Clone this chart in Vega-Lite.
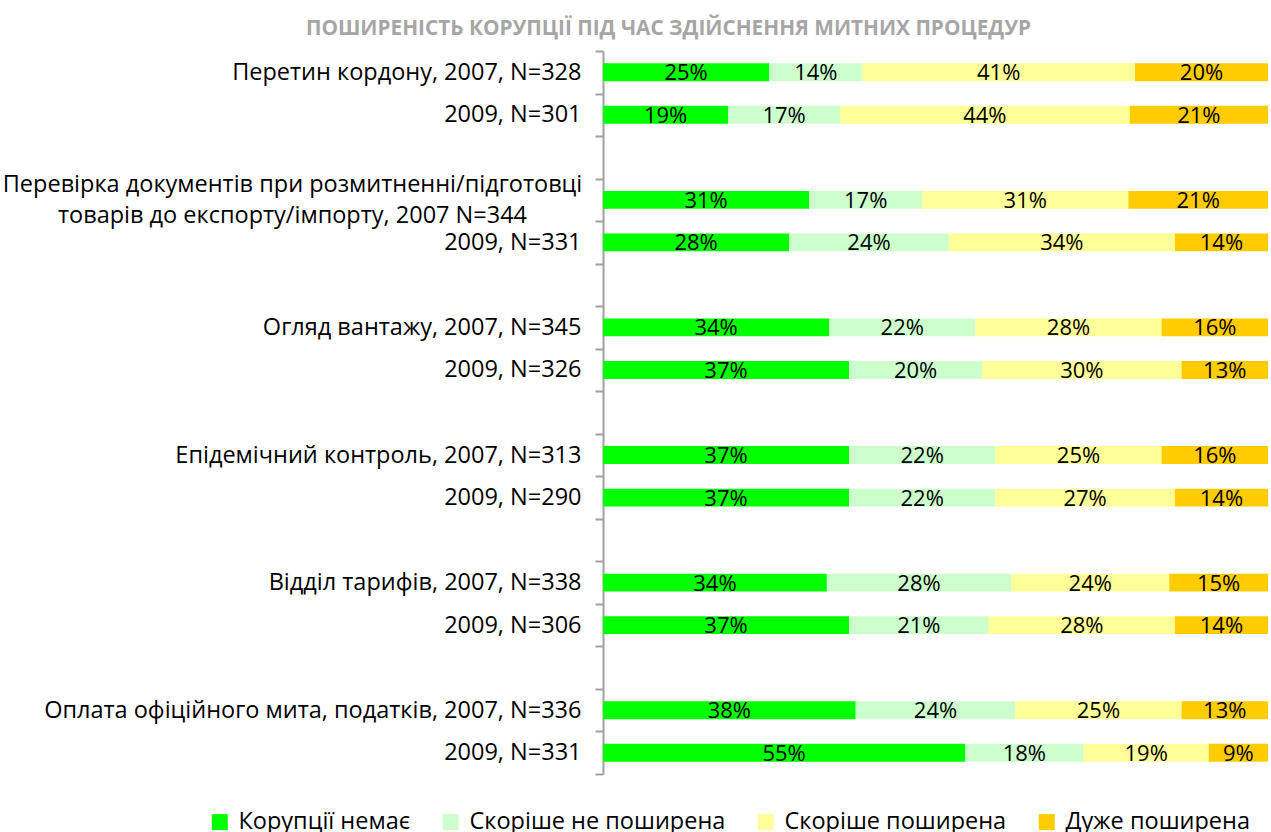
{
  "$schema": "https://vega.github.io/schema/vega-lite/v6.json",
  "width": 665,
  "height": 723,
  "autosize": "none",
  "padding": {"left": 603, "top": 51, "right": 3, "bottom": 58},
  "config": {
    "font": "Open Sans",
    "view": {"stroke": null}
  },
  "title": {
    "text": "ПОШИРЕНІСТЬ КОРУПЦІЇ ПІД ЧАС ЗДІЙСНЕННЯ  МИТНИХ ПРОЦЕДУР",
    "anchor": "middle",
    "frame": "group",
    "dx": -267,
    "dy": 14,
    "offset": 13,
    "fontSize": 20.8,
    "fontWeight": "bold",
    "color": "#A6A6A6",
    "font": "Open Sans"
  },
  "data": {
    "values": [
      {"r": "Перетин кордону, 2007, N=328", "s": "Корупції немає", "k": 1, "v": 0.25},
      {"r": "Перетин кордону, 2007, N=328", "s": "Скоріше не поширена", "k": 2, "v": 0.14},
      {"r": "Перетин кордону, 2007, N=328", "s": "Скоріше поширена", "k": 3, "v": 0.41},
      {"r": "Перетин кордону, 2007, N=328", "s": "Дуже поширена", "k": 4, "v": 0.20},
      {"r": "2009, N=301", "s": "Корупції немає", "k": 1, "v": 0.19},
      {"r": "2009, N=301", "s": "Скоріше не поширена", "k": 2, "v": 0.17},
      {"r": "2009, N=301", "s": "Скоріше поширена", "k": 3, "v": 0.44},
      {"r": "2009, N=301", "s": "Дуже поширена", "k": 4, "v": 0.21},
      {"r": "Перевірка документів при розмитненні/підготовці|товарів до експорту/імпорту, 2007 N=344", "s": "Корупції немає", "k": 1, "v": 0.31},
      {"r": "Перевірка документів при розмитненні/підготовці|товарів до експорту/імпорту, 2007 N=344", "s": "Скоріше не поширена", "k": 2, "v": 0.17},
      {"r": "Перевірка документів при розмитненні/підготовці|товарів до експорту/імпорту, 2007 N=344", "s": "Скоріше поширена", "k": 3, "v": 0.31},
      {"r": "Перевірка документів при розмитненні/підготовці|товарів до експорту/імпорту, 2007 N=344", "s": "Дуже поширена", "k": 4, "v": 0.21},
      {"r": "2009, N=331", "s": "Корупції немає", "k": 1, "v": 0.28},
      {"r": "2009, N=331", "s": "Скоріше не поширена", "k": 2, "v": 0.24},
      {"r": "2009, N=331", "s": "Скоріше поширена", "k": 3, "v": 0.34},
      {"r": "2009, N=331", "s": "Дуже поширена", "k": 4, "v": 0.14},
      {"r": "Огляд вантажу, 2007, N=345", "s": "Корупції немає", "k": 1, "v": 0.34},
      {"r": "Огляд вантажу, 2007, N=345", "s": "Скоріше не поширена", "k": 2, "v": 0.22},
      {"r": "Огляд вантажу, 2007, N=345", "s": "Скоріше поширена", "k": 3, "v": 0.28},
      {"r": "Огляд вантажу, 2007, N=345", "s": "Дуже поширена", "k": 4, "v": 0.16},
      {"r": "2009, N=326", "s": "Корупції немає", "k": 1, "v": 0.37},
      {"r": "2009, N=326", "s": "Скоріше не поширена", "k": 2, "v": 0.20},
      {"r": "2009, N=326", "s": "Скоріше поширена", "k": 3, "v": 0.30},
      {"r": "2009, N=326", "s": "Дуже поширена", "k": 4, "v": 0.13},
      {"r": "Епідемічний контроль, 2007, N=313", "s": "Корупції немає", "k": 1, "v": 0.37},
      {"r": "Епідемічний контроль, 2007, N=313", "s": "Скоріше не поширена", "k": 2, "v": 0.22},
      {"r": "Епідемічний контроль, 2007, N=313", "s": "Скоріше поширена", "k": 3, "v": 0.25},
      {"r": "Епідемічний контроль, 2007, N=313", "s": "Дуже поширена", "k": 4, "v": 0.16},
      {"r": "2009, N=290", "s": "Корупції немає", "k": 1, "v": 0.37},
      {"r": "2009, N=290", "s": "Скоріше не поширена", "k": 2, "v": 0.22},
      {"r": "2009, N=290", "s": "Скоріше поширена", "k": 3, "v": 0.27},
      {"r": "2009, N=290", "s": "Дуже поширена", "k": 4, "v": 0.14},
      {"r": "Відділ тарифів, 2007, N=338", "s": "Корупції немає", "k": 1, "v": 0.34},
      {"r": "Відділ тарифів, 2007, N=338", "s": "Скоріше не поширена", "k": 2, "v": 0.28},
      {"r": "Відділ тарифів, 2007, N=338", "s": "Скоріше поширена", "k": 3, "v": 0.24},
      {"r": "Відділ тарифів, 2007, N=338", "s": "Дуже поширена", "k": 4, "v": 0.15},
      {"r": "2009, N=306", "s": "Корупції немає", "k": 1, "v": 0.37},
      {"r": "2009, N=306", "s": "Скоріше не поширена", "k": 2, "v": 0.21},
      {"r": "2009, N=306", "s": "Скоріше поширена", "k": 3, "v": 0.28},
      {"r": "2009, N=306", "s": "Дуже поширена", "k": 4, "v": 0.14},
      {"r": "Оплата офіційного мита, податків,  2007, N=336", "s": "Корупції немає", "k": 1, "v": 0.38},
      {"r": "Оплата офіційного мита, податків,  2007, N=336", "s": "Скоріше не поширена", "k": 2, "v": 0.24},
      {"r": "Оплата офіційного мита, податків,  2007, N=336", "s": "Скоріше поширена", "k": 3, "v": 0.25},
      {"r": "Оплата офіційного мита, податків,  2007, N=336", "s": "Дуже поширена", "k": 4, "v": 0.13},
      {"r": "2009, N=331 ", "s": "Корупції немає", "k": 1, "v": 0.55},
      {"r": "2009, N=331 ", "s": "Скоріше не поширена", "k": 2, "v": 0.18},
      {"r": "2009, N=331 ", "s": "Скоріше поширена", "k": 3, "v": 0.19},
      {"r": "2009, N=331 ", "s": "Дуже поширена", "k": 4, "v": 0.09}
    ]
  },
  "encoding": {
    "y": {
      "field": "r",
      "type": "nominal",
      "sort": null,
      "scale": {
        "domain": [
          "Перетин кордону, 2007, N=328", "2009, N=301", " ",
          "Перевірка документів при розмитненні/підготовці|товарів до експорту/імпорту, 2007 N=344", "2009, N=331", "  ",
          "Огляд вантажу, 2007, N=345", "2009, N=326", "   ",
          "Епідемічний контроль, 2007, N=313", "2009, N=290", "    ",
          "Відділ тарифів, 2007, N=338", "2009, N=306", "     ",
          "Оплата офіційного мита, податків,  2007, N=336", "2009, N=331 "
        ],
        "paddingInner": 0,
        "paddingOuter": 0
      },
      "axis": {
        "title": null,
        "tickBand": "extent",
        "labelExpr": "isString(datum.value) ? split(trim(datum.value), '|') : ''",
        "labelFontSize": 23.5,
        "labelColor": "#000000",
        "labelPadding": {"condition": {"test": "isString(datum.value) && indexof(datum.value, '|') >= 0", "value": 303}, "value": 14},
        "labelAlign": {"condition": {"test": "isString(datum.value) && indexof(datum.value, '|') >= 0", "value": "center"}, "value": "right"},
        "labelOffset": {"condition": {"test": "isString(datum.value) && indexof(datum.value, '|') >= 0", "value": -15}, "value": 0},
        "labelLineHeight": 31,
        "labelLimit": 700,
        "labelOverlap": false,
        "domainColor": "#A0A0A0",
        "domainWidth": 2,
        "tickColor": "#A0A0A0",
        "tickWidth": 2,
        "tickSize": 8
      }
    }
  },
  "layer": [
    {
      "mark": {"type": "bar", "height": {"band": 0.42}},
      "encoding": {
        "x": {"field": "v", "type": "quantitative", "stack": "normalize", "axis": null, "scale": {"domain": [0, 1], "nice": false}},
        "order": {"field": "k", "type": "quantitative"},
        "color": {
          "field": "s",
          "type": "nominal",
          "scale": {
            "domain": ["Корупції немає", "Скоріше не поширена", "Скоріше поширена", "Дуже поширена"],
            "range": ["#00FF00", "#CCFFCC", "#FFFF99", "#FFCC00"]
          },
          "legend": {
            "title": null,
            "orient": "none",
            "direction": "horizontal",
            "legendX": -395,
            "legendY": 759,
            "symbolType": "square",
            "symbolSize": 256,
            "symbolStrokeWidth": 0,
            "symbolOpacity": 1,
            "labelFontSize": 23.5,
            "labelColor": "#000000",
            "labelLimit": 400,
            "columnPadding": 28,
            "labelOffset": 7
          }
        }
      }
    },
    {
      "mark": {"type": "text", "fontSize": 22, "color": "#000000", "baseline": "middle", "dy": 1},
      "encoding": {
        "x": {"field": "v", "type": "quantitative", "stack": "normalize", "bandPosition": 0.5},
        "detail": {"field": "s", "type": "nominal"},
        "order": {"field": "k", "type": "quantitative"},
        "text": {"field": "v", "type": "quantitative", "format": ".0%"}
      }
    }
  ]
}
